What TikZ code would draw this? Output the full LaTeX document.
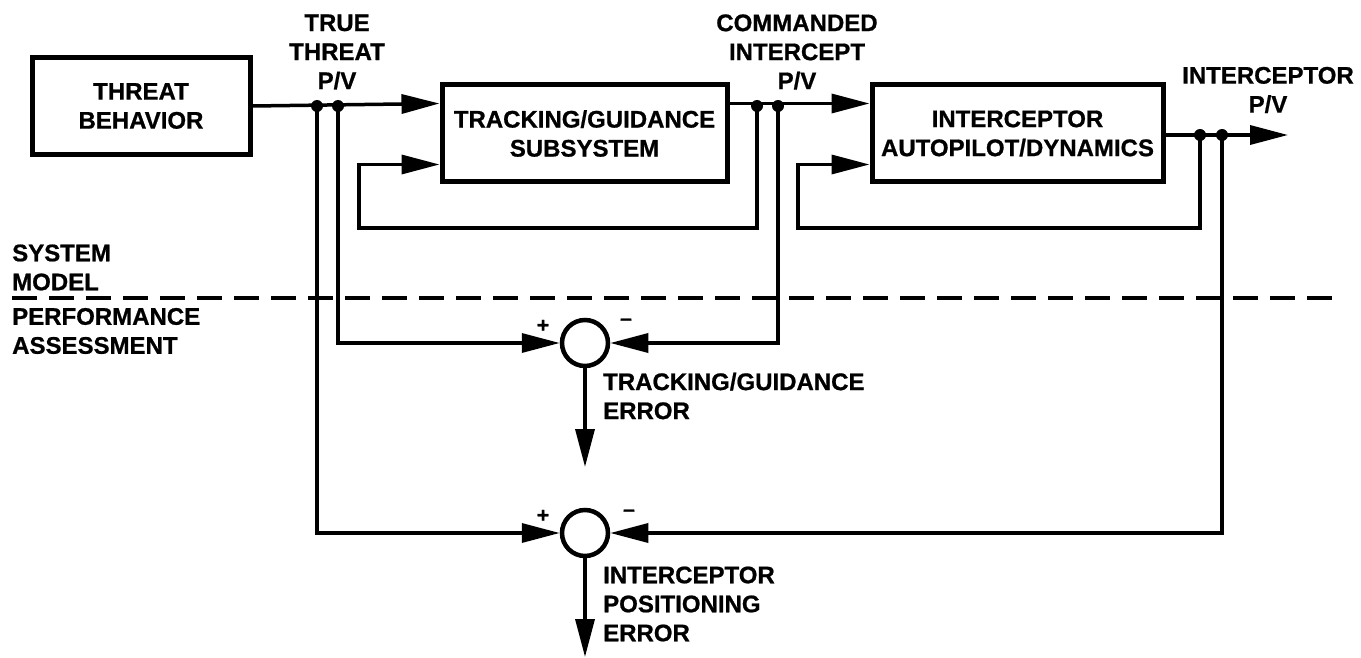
\documentclass[tikz,border=0pt]{standalone}
\usepackage{fontspec}
\setmainfont{Liberation Sans}[BoldFeatures={FakeBold=0.8}]
\usetikzlibrary{arrows.meta, positioning}

\begin{document}
\begin{tikzpicture}[x=1pt, y=-1pt,
        font=\fontsize{24}{29}\selectfont\bfseries,
        blk/.style={draw, rectangle, line width=5pt, minimum height=97pt, align=center, inner sep=0pt},
        sumnode/.style={draw, circle, line width=4.5pt, minimum size=46pt, inner sep=0pt},
        dot/.style={circle, fill, inner sep=0pt, minimum size=12pt},
        flow/.style={line width=3.5pt, -{Triangle[length=38pt, width=19pt]}},
        lbl/.style={align=center, inner sep=0pt},
        sgn/.style={font=\fontsize{21}{21}\selectfont\bfseries, inner sep=0pt}]
        \useasboundingbox (0,0) rectangle (1361,658);

        % blocks of the system model
        \node[blk, minimum width=218pt] (threat) at (141,106) {THREAT\\BEHAVIOR};
        \node[blk, minimum width=285pt] (track) at (584.5,133.5) {TRACKING/GUIDANCE\\SUBSYSTEM};
        \node[blk, minimum width=291pt] (icpt) at (1017.5,133.5) {INTERCEPTOR\\AUTOPILOT/DYNAMICS};

        % pick-off points
        \node[dot] (j1) at (317,106) {};
        \node[dot] (j2) at (338,106) {};
        \node[dot] (j3) at (757,106) {};
        \node[dot] (j4) at (778,106) {};
        \node[dot] (j5) at (1200,135) {};
        \node[dot] (j6) at (1222,135) {};
        \coordinate (tl) at (359,228);
        \coordinate (il) at (798,228);
        \coordinate (out) at (1288,135);

        % summing junctions
        \node[sumnode] (s1) at (585,343) {};
        \node[sumnode] (s2) at (585,533) {};
        \coordinate (e1) at (585,467);
        \coordinate (e2) at (585,657);

        % forward path
        \draw[flow] (threat.east |- j1) -- ([yshift=-21pt]track.north west);
        \draw[flow] ([yshift=-21pt]track.north east) -- ([yshift=-21pt]icpt.north west);
        \draw[flow] (icpt.east |- j5) -- (out);

        % feedback loops
        \draw[flow] (j3.center) |- (tl) |- ([yshift=20pt]track.south west);
        \draw[flow] (j5.center) |- (il) |- ([yshift=20pt]icpt.south west);

        % performance assessment
        \draw[flow] (j2.center) |- (s1.west);
        \draw[flow] (j4.center) |- (s1.east);
        \draw[flow] (s1.south) -- (e1);
        \draw[flow] (j1.center) |- (s2.west);
        \draw[flow] (j6.center) |- (s2.east);
        \draw[flow] (s2.south) -- (e2);

        \node[sgn] (p1) at ([shift={(-42,-17)}]s1) {+};
        \node[sgn] (m1) at ([shift={(41,-21)}]s1) {--};
        \node[sgn] (p2) at ([shift={(-42,-17)}]s2) {+};
        \node[sgn] (m2) at ([shift={(44,-20)}]s2) {--};

        % boundary between model and assessment
        \draw[line width=3.5pt, dash pattern=on 25pt off 12pt] (12,298) -- (1340,298);

        % labels
        \node[lbl] (ttp) at (337,52) {TRUE\\THREAT\\P/V};
        \node[lbl] (cip) at (797,52) {COMMANDED\\INTERCEPT\\P/V};
        \node[lbl] (ipv) at (1268,90) {INTERCEPTOR\\P/V};
        \node[lbl, align=left, anchor=west] (sysm) at (12,267.5) {SYSTEM\\MODEL};
        \node[lbl, align=left, anchor=west] (perf) at (12,331) {PERFORMANCE\\ASSESSMENT};
        \node[lbl, align=left, anchor=west] (tge) at (603,396) {TRACKING/GUIDANCE\\ERROR};
        \node[lbl, align=left, anchor=west] (ipe) at (603,604) {INTERCEPTOR\\POSITIONING\\ERROR};
    \end{tikzpicture}
\end{document}
